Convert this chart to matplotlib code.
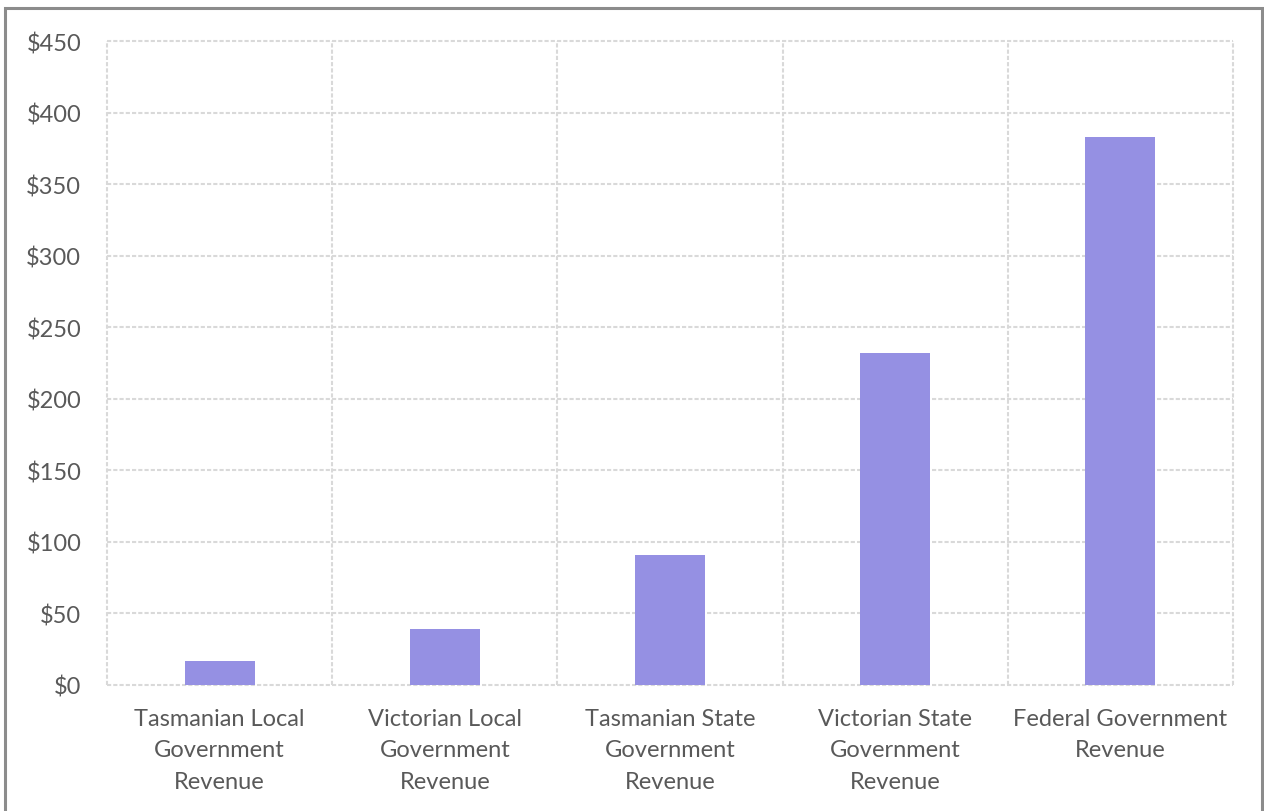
import matplotlib
matplotlib.use("Agg")
import matplotlib.pyplot as plt
from matplotlib.patches import Rectangle
from matplotlib.ticker import FuncFormatter, MultipleLocator

categories = [
    "Tasmanian Local\nGovernment\nRevenue",
    "Victorian Local\nGovernment\nRevenue",
    "Tasmanian State\nGovernment\nRevenue",
    "Victorian State\nGovernment\nRevenue",
    "Federal Government\nRevenue",
]
revenue = [17, 39, 91, 232, 383]

bar_color = "#9590E3"
grid_color = "#D9D9D9"
text_color = "#595959"

plt.rcParams["font.family"] = ["Lato", "DejaVu Sans"]

fig = plt.figure(figsize=(12.64, 8.12), dpi=100)
ax = fig.add_axes([107 / 1264, 1 - 686 / 812, (1233 - 107) / 1264, (686 - 42) / 812])

x = list(range(len(categories)))
ax.bar(x, revenue, width=0.31, color=bar_color, zorder=3)

ax.set_xlim(-0.5, len(categories) - 0.5)
ax.set_ylim(0, 450)
ax.yaxis.set_major_locator(MultipleLocator(50))
ax.yaxis.set_major_formatter(FuncFormatter(lambda v, p: f"${v:.0f}"))

dash = (0, (2, 1))
for v in range(0, 451, 50):
    ax.axhline(v, color=grid_color, lw=1.5, ls=dash, zorder=1, clip_on=False)
for b in [i - 0.5 for i in range(len(categories) + 1)]:
    ax.axvline(b, color=grid_color, lw=1.5, ls=dash, zorder=1, clip_on=False)

for s in ax.spines.values():
    s.set_visible(False)

ax.set_xticks(x)
ax.set_xticklabels(categories, linespacing=1.62)
ax.tick_params(axis="both", length=0, labelsize=17, colors=text_color)
ax.tick_params(axis="x", pad=16.5)
ax.tick_params(axis="y", pad=18.5)

# outer frame around the chart
fig.patches.append(Rectangle((5 / 1264, -0.01), 1 - 7 / 1264, 1 - 9 / 812 + 0.01,
                             transform=fig.transFigure, fill=False,
                             edgecolor="#8C8C8C", lw=2.2))

fig.savefig("out.png", dpi=100, facecolor="white")
